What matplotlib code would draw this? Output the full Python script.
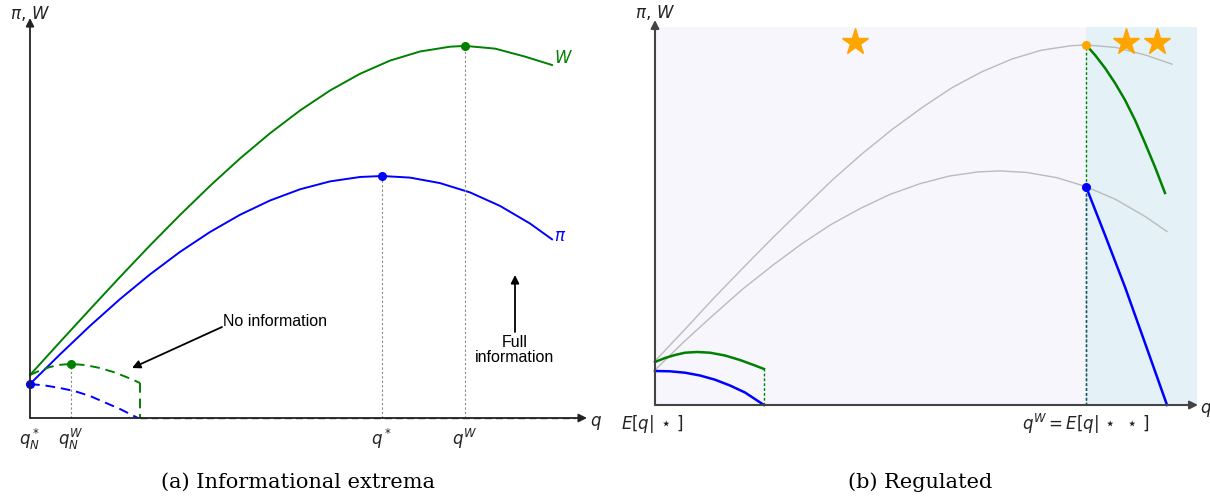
import matplotlib
matplotlib.use("Agg")
import matplotlib.pyplot as plt

# ---------------- data (arbitrary units) ----------------
# Panel (a): full-information curves
qa_W = [0, 30, 60, 90, 120, 150, 180, 210, 240, 270, 300, 330, 360, 390, 420, 435,
        465, 495, 522]
W_full = [43, 76, 108.7, 141, 172.6, 203, 232.1, 259.5, 284.7, 307.5, 327.5, 344.2,
          357.4, 366.5, 371.3, 372.1, 369.4, 361.4, 353]
qa_pi = [0, 30, 60, 90, 120, 150, 180, 210, 240, 270, 300, 330, 352, 380, 410, 440,
         470, 500, 522]
pi_full = [34, 63.6, 92.1, 118.9, 143.6, 166.1, 186, 203.2, 217.5, 228.7, 236.6, 241,
           242, 240.4, 234.9, 225.6, 212.1, 194.5, 178.7]
# Panel (a): no-information curves (dashed)
qa_Wn = [0, 10, 20, 30, 41, 55, 70, 85, 100, 110]
W_none = [43, 47.5, 51, 53.2, 54, 53, 50, 45.5, 39.5, 35]
qa_pin = [0, 15, 30, 45, 60, 75, 90, 108]
pi_none = [34, 32.5, 30, 26.8, 22, 15.5, 9, 0]
# Panel (a): marked optima
q_N_star, q_N_W, q_star, q_W = 0, 41, 352, 435
W_at_qNW, pi_at_qNstar, pi_max, W_max = 54, 34, 242, 372.1
tick_labels_a = [r"$q_N^*$", r"$q_N^W$", r"$q^*$", r"$q^W$"]

# Panel (b): reference (grey) curves
qb_W = [0, 30, 59, 89, 119, 149, 178, 208, 238, 268, 297, 327, 357, 386, 416, 431,
        461, 491, 517]
Wb_ref = [44, 75.7, 107.1, 138.1, 168.5, 197.7, 225.6, 252, 276.2, 298.1, 317.3,
          333.3, 346, 354.7, 359.3, 360.1, 357.5, 349.8, 340.8]
qb_pi = [0, 29, 59, 88, 118, 147, 176, 206, 235, 265, 294, 323, 345, 372, 402, 431,
         461, 490, 512]
pib_ref = [35, 63.3, 90.6, 116.2, 139.9, 161.4, 180.5, 196.9, 210.6, 221.3, 228.9,
           233.1, 234.1, 232.5, 227.3, 218.4, 205.4, 188.6, 173.5]
# Panel (b): regulated outcomes
qb_lowW = [0, 10, 20, 30, 42, 55, 70, 85, 100, 109]
Wb_low = [43, 47, 50, 52.3, 53, 52.3, 49.5, 45, 39.5, 36]
qb_lowpi = [0, 15, 30, 45, 60, 75, 90, 109]
pib_low = [34, 33.7, 32.3, 29.5, 25.3, 19.5, 12.5, 0]
qb_highW = [431, 440, 450, 460, 470, 480, 490, 500, 510]
Wb_high = [360.1, 350, 337, 322, 305, 285, 262, 238, 212]
qb_highpi = [431, 450, 470, 490, 512]
pib_high = [218.4, 170, 118, 62, 0]
q_low_cut, q_reg = 109, 431
star_q = [200, 471, 502]
star_y = 363
tick_labels_b = [r"$E[q|\,\star\,]$", r"$q^W = E[q|\,\star\;\star\,]$"]

GREEN = "#008000"
BLUE = "#0000ff"

fig = plt.figure(figsize=(12.10, 5.01), dpi=100)

# ---------------- panel (a) ----------------
ax1 = fig.add_axes([0, 0, 605 / 1210, 1])
ax1.set_xlim(-30, 575)
ax1.set_ylim(-83, 418)
ax1.axis("off")

arrow_kw = dict(arrowstyle="-|>", color="#222222", lw=1.3, mutation_scale=12,
                shrinkA=0, shrinkB=0)
ax1.annotate("", xy=(557, 0), xytext=(0, 0), arrowprops=arrow_kw)
ax1.annotate("", xy=(0, 400), xytext=(0, 0), arrowprops=arrow_kw)

dash = (0, (5, 3))
ax1.plot(qa_W, W_full, color=GREEN, lw=1.4)
ax1.plot(qa_pi, pi_full, color=BLUE, lw=1.4)
ax1.plot(qa_Wn, W_none, color=GREEN, lw=1.4, ls=dash)
ax1.plot([qa_Wn[-1], qa_Wn[-1]], [W_none[-1], 0], color=GREEN, lw=1.4, ls=dash)
ax1.plot([qa_Wn[-1], 545], [0, 0], color="#1a4d1a", lw=1.0, ls=dash)
ax1.plot(qa_pin, pi_none, color=BLUE, lw=1.4, ls=dash)

for qx, top in [(q_N_W, W_at_qNW), (q_star, pi_max), (q_W, W_max)]:
    ax1.plot([qx, qx], [0, top], color="#888888", lw=0.8, ls=(0, (2, 2)))

ax1.plot([q_N_W], [W_at_qNW], "o", color=GREEN, ms=5.5)
ax1.plot([q_W], [W_max], "o", color=GREEN, ms=5.5)
ax1.plot([q_star], [pi_max], "o", color=BLUE, ms=5.5)
ax1.plot([q_N_star], [pi_at_qNstar], "o", color=BLUE, ms=5.5)

for qx, lab in zip([q_N_star, q_N_W, q_star, q_W], tick_labels_a):
    ax1.text(qx, -21, lab, ha="center", va="center", fontsize=12, color="#222222")
ax1.text(560, -5, r"$q$", ha="left", va="center", fontsize=12, color="#222222")
ax1.text(0, 405, r"$\pi,\,W$", ha="center", va="center", fontsize=12, color="#222222")
ax1.text(524, 360, r"$W$", ha="left", va="center", fontsize=12, color=GREEN)
ax1.text(524, 182, r"$\pi$", ha="left", va="center", fontsize=12, color=BLUE)

ax1.annotate("", xy=(102, 50), xytext=(192, 91),
             arrowprops=dict(arrowstyle="-|>", color="black", lw=1.3, mutation_scale=12,
                             shrinkA=0, shrinkB=0))
ax1.text(193, 96, "No information", ha="left", va="center", fontsize=11.5,
         family="Liberation Sans")
ax1.annotate("", xy=(485, 143), xytext=(485, 86),
             arrowprops=dict(arrowstyle="-|>", color="black", lw=1.3, mutation_scale=12,
                             shrinkA=0, shrinkB=0))
ax1.text(485, 68, "Full\ninformation", ha="center", va="center", fontsize=11.5,
         family="Liberation Sans", linespacing=1.05)

# ---------------- panel (b) ----------------
ax2 = fig.add_axes([605 / 1210, 0, 605 / 1210, 1])
ax2.set_xlim(-50, 555)
ax2.set_ylim(-96, 405)
ax2.axis("off")

ax2.fill_between([0, q_reg], 0, 378, color="#f6f6fc", lw=0, zorder=0)
ax2.fill_between([q_reg, 542], 0, 378, color="#e4f2f7", lw=0, zorder=0)

arrow_kw2 = dict(arrowstyle="-|>", color="#444444", lw=1.5, mutation_scale=12,
                 shrinkA=0, shrinkB=0)
ax2.annotate("", xy=(543, 0), xytext=(0, 0), arrowprops=arrow_kw2)
ax2.annotate("", xy=(0, 385), xytext=(0, 0), arrowprops=arrow_kw2)

ax2.plot(qb_W, Wb_ref, color="#bbbbbb", lw=1.0)
ax2.plot(qb_pi, pib_ref, color="#bbbbbb", lw=1.0)

ax2.plot(qb_lowW, Wb_low, color=GREEN, lw=1.8)
ax2.plot(qb_lowpi, pib_low, color=BLUE, lw=1.8)
ax2.plot([q_low_cut, q_low_cut], [0, Wb_low[-1]], color=GREEN, lw=1.0, ls=(0, (2, 1.5)))
ax2.plot([q_low_cut, qb_highpi[-1]], [0, 0], color="#1a5a1a", lw=1.2)

ax2.plot([q_reg, q_reg], [0, Wb_high[0]], color=GREEN, lw=1.0, ls=(0, (2, 1.5)))
ax2.plot([q_reg, q_reg], [0, pib_high[0]], color="#1f4f7f", lw=1.0, ls=(0, (2, 1.5)))
ax2.plot(qb_highW, Wb_high, color=GREEN, lw=1.8)
ax2.plot(qb_highpi, pib_high, color=BLUE, lw=1.8)
ax2.plot([q_reg], [Wb_high[0]], "o", color="orange", ms=5.5)
ax2.plot([q_reg], [pib_high[0]], "o", color=BLUE, ms=5.5)

ax2.plot(star_q, [star_y] * len(star_q), "*", color="orange", ms=20, mec="orange")

ax2.text(-3, -19, tick_labels_b[0], ha="center", va="center", fontsize=12, color="#222222")
ax2.text(q_reg, -19, tick_labels_b[1], ha="center", va="center", fontsize=12, color="#222222")
ax2.text(544.5, -5, r"$q$", ha="left", va="center", fontsize=12, color="#222222")
ax2.text(0, 393, r"$\pi,\,W$", ha="center", va="center", fontsize=12, color="#222222")

# ---------------- captions ----------------
fig.text(298 / 1210, 1 - 482 / 501, "(a) Informational extrema", ha="center", va="center",
         fontsize=15, family="DejaVu Serif")
fig.text(920 / 1210, 1 - 482 / 501, "(b) Regulated", ha="center", va="center",
         fontsize=15, family="DejaVu Serif")

fig.savefig("out.png", dpi=100)
